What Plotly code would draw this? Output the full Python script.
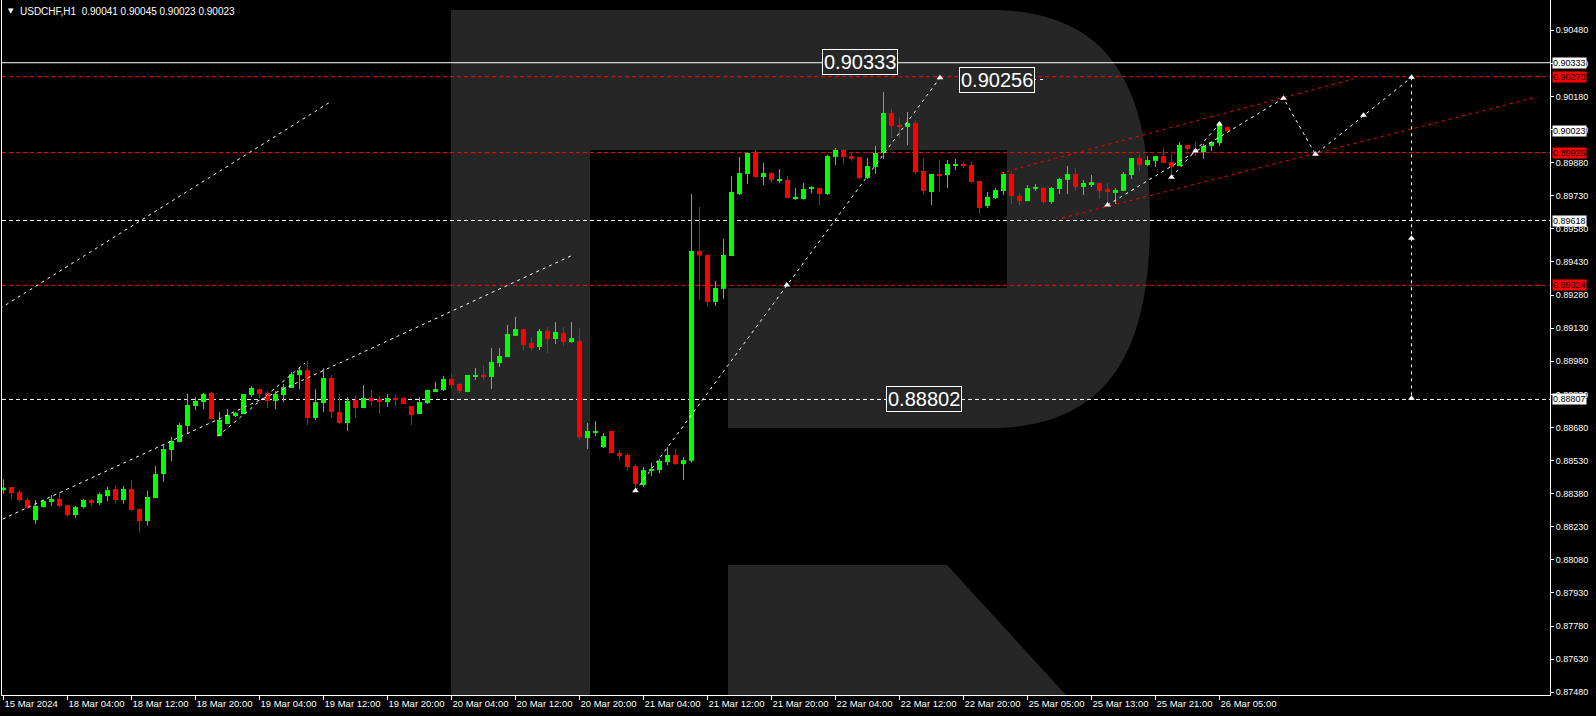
import plotly.graph_objects as go

# ---------------- data (USDCHF H1) ----------------
opens = [0.88396,0.88410,0.88387,0.88351,0.88260,0.88319,0.88342,0.88356,0.88328,0.88283,
0.88319,0.88351,0.88338,0.88369,0.88401,0.88351,0.88401,0.88310,0.88256,0.88360,
0.88469,0.88578,0.88614,0.88687,0.88777,0.88795,0.88836,0.88641,0.88696,0.88732,
0.88741,0.88827,0.88854,0.88836,0.88800,0.88827,0.88859,0.88918,0.88940,0.88723,
0.88791,0.88904,0.88750,0.88700,0.88804,0.88768,0.88814,0.88809,0.88795,0.88814,
0.88814,0.88777,0.88741,0.88791,0.88845,0.88850,0.88900,0.88877,0.88841,0.88913,
0.88918,0.88909,0.88972,0.88999,0.89095,0.89126,0.89063,0.89045,0.89117,0.89081,
0.89108,0.89067,0.89072,0.88632,0.88659,0.88591,0.88664,0.88564,0.88555,0.88505,
0.88419,0.88483,0.88487,0.88523,0.88555,0.88514,0.88529,0.89480,0.89462,0.89249,
0.89308,0.89457,0.89738,0.89829,0.89928,0.89815,0.89833,0.89797,0.89802,0.89715,
0.89715,0.89761,0.89765,0.89738,0.89906,0.89938,0.89910,0.89906,0.89811,0.89861,
0.89924,0.90105,0.90046,0.90042,0.90060,0.89842,0.89747,0.89829,0.89824,0.89865,
0.89874,0.89870,0.89797,0.89684,0.89720,0.89752,0.89829,0.89729,0.89706,0.89765,
0.89765,0.89702,0.89761,0.89802,0.89829,0.89770,0.89783,0.89788,0.89761,0.89743,
0.89752,0.89824,0.89901,0.89870,0.89888,0.89910,0.89883,0.89865,0.89960,0.89942,
0.89928,0.89956,0.89969,0.90041]
highs = [0.88445,0.88410,0.88396,0.88363,0.88351,0.88351,0.88374,0.88386,0.88328,0.88324,
0.88356,0.88356,0.88386,0.88410,0.88419,0.88415,0.88442,0.88315,0.88392,0.88505,
0.88600,0.88637,0.88700,0.88832,0.88818,0.88836,0.88841,0.88750,0.88764,0.88750,
0.88832,0.88868,0.88854,0.88845,0.88845,0.88877,0.88931,0.88954,0.88981,0.88854,
0.88949,0.88918,0.88832,0.88818,0.88823,0.88872,0.88850,0.88823,0.88832,0.88827,
0.88818,0.88777,0.88818,0.88850,0.88886,0.88913,0.88922,0.88881,0.88918,0.88949,
0.88959,0.89040,0.89040,0.89144,0.89181,0.89126,0.89090,0.89126,0.89135,0.89158,
0.89135,0.89158,0.89131,0.88700,0.88709,0.88655,0.88664,0.88578,0.88564,0.88514,
0.88501,0.88519,0.88537,0.88591,0.88582,0.88546,0.89738,0.89679,0.89462,0.89344,
0.89534,0.89820,0.89906,0.89924,0.89938,0.89879,0.89838,0.89851,0.89820,0.89765,
0.89788,0.89774,0.89765,0.89915,0.89947,0.89942,0.89928,0.89906,0.89901,0.89956,
0.90200,0.90123,0.90083,0.90110,0.90073,0.89901,0.89829,0.89892,0.89892,0.89897,
0.89883,0.89883,0.89797,0.89747,0.89765,0.89838,0.89842,0.89743,0.89779,0.89783,
0.89770,0.89770,0.89811,0.89865,0.89856,0.89802,0.89824,0.89788,0.89788,0.89765,
0.89838,0.89901,0.89919,0.89910,0.89910,0.89947,0.89919,0.89974,0.89960,0.89978,
0.89965,0.89974,0.90064,0.90045]
lows = [0.88381,0.88353,0.88344,0.88313,0.88242,0.88319,0.88324,0.88319,0.88276,0.88271,
0.88313,0.88325,0.88328,0.88347,0.88335,0.88335,0.88301,0.88206,0.88235,0.88360,
0.88434,0.88528,0.88614,0.88655,0.88759,0.88764,0.88718,0.88641,0.88696,0.88727,
0.88741,0.88818,0.88814,0.88768,0.88764,0.88795,0.88859,0.88854,0.88691,0.88714,
0.88750,0.88723,0.88696,0.88664,0.88723,0.88768,0.88777,0.88741,0.88773,0.88777,
0.88786,0.88691,0.88741,0.88786,0.88841,0.88845,0.88859,0.88836,0.88841,0.88895,
0.88895,0.88854,0.88954,0.88999,0.89095,0.89027,0.89027,0.89031,0.89017,0.89058,
0.89049,0.89063,0.88623,0.88582,0.88641,0.88587,0.88564,0.88532,0.88483,0.88396,
0.88410,0.88460,0.88473,0.88510,0.88510,0.88442,0.88520,0.89258,0.89226,0.89231,
0.89262,0.89457,0.89734,0.89783,0.89811,0.89779,0.89788,0.89788,0.89720,0.89711,
0.89715,0.89743,0.89688,0.89734,0.89870,0.89874,0.89888,0.89806,0.89806,0.89829,
0.89897,0.89992,0.89992,0.89960,0.89829,0.89734,0.89688,0.89747,0.89765,0.89847,
0.89856,0.89788,0.89648,0.89675,0.89715,0.89734,0.89693,0.89688,0.89706,0.89752,
0.89693,0.89693,0.89738,0.89738,0.89752,0.89734,0.89770,0.89715,0.89684,0.89693,
0.89752,0.89806,0.89842,0.89865,0.89861,0.89879,0.89815,0.89865,0.89933,0.89910,
0.89897,0.89933,0.89956,0.90023]
closes = [0.88407,0.88383,0.88351,0.88316,0.88325,0.88347,0.88356,0.88324,0.88283,0.88319,
0.88351,0.88338,0.88378,0.88396,0.88351,0.88401,0.88306,0.88256,0.88365,0.88469,
0.88582,0.88619,0.88691,0.88782,0.88800,0.88832,0.88718,0.88714,0.88736,0.88746,
0.88832,0.88859,0.88832,0.88800,0.88832,0.88863,0.88922,0.88940,0.88723,0.88795,
0.88904,0.88750,0.88700,0.88800,0.88768,0.88814,0.88800,0.88795,0.88814,0.88809,
0.88786,0.88736,0.88795,0.88850,0.88854,0.88900,0.88872,0.88845,0.88918,0.88918,
0.88909,0.88977,0.89004,0.89104,0.89126,0.89054,0.89040,0.89117,0.89081,0.89113,
0.89067,0.89085,0.88637,0.88664,0.88664,0.88641,0.88564,0.88551,0.88501,0.88424,
0.88487,0.88492,0.88528,0.88555,0.88514,0.88532,0.89480,0.89459,0.89249,0.89312,
0.89462,0.89747,0.89833,0.89924,0.89815,0.89833,0.89802,0.89802,0.89720,0.89725,
0.89761,0.89765,0.89738,0.89910,0.89938,0.89906,0.89901,0.89811,0.89865,0.89924,
0.90105,0.90046,0.90042,0.90060,0.89838,0.89752,0.89829,0.89824,0.89874,0.89874,
0.89865,0.89792,0.89675,0.89725,0.89756,0.89829,0.89729,0.89706,0.89765,0.89770,
0.89702,0.89765,0.89806,0.89829,0.89770,0.89788,0.89792,0.89752,0.89747,0.89756,
0.89829,0.89901,0.89870,0.89892,0.89910,0.89879,0.89861,0.89960,0.89942,0.89924,
0.89956,0.89974,0.90051,0.90023]

time_tick_idx = [0, 8, 16, 24, 32, 40, 48, 56, 64, 72, 80, 88, 96, 104, 112, 120, 128, 136, 144, 152]
time_tick_labels = ["15 Mar 2024", "18 Mar 04:00", "18 Mar 12:00", "18 Mar 20:00", "19 Mar 04:00",
                    "19 Mar 12:00", "19 Mar 20:00", "20 Mar 04:00", "20 Mar 12:00", "20 Mar 20:00",
                    "21 Mar 04:00", "21 Mar 12:00", "21 Mar 20:00", "22 Mar 04:00", "22 Mar 12:00",
                    "22 Mar 20:00", "25 Mar 05:00", "25 Mar 13:00", "25 Mar 21:00", "26 Mar 05:00"]

price_ticks = [0.87480, 0.87630, 0.87780, 0.87930, 0.88080, 0.88230, 0.88380, 0.88530, 0.88680,
               0.88830, 0.88980, 0.89130, 0.89280, 0.89430, 0.89580, 0.89730, 0.89880, 0.90030,
               0.90180, 0.90330, 0.90480]

solid_white_levels = [0.90333]
red_levels = [0.90270, 0.89926, 0.89324]
white_dash_levels = [0.89618, 0.88807]
white_price_tags = [0.90333, 0.90023, 0.89618, 0.88807]
red_price_tags = [0.90270, 0.89926, 0.89324]

# drawn analysis lines: (bar index list, price list)
white_lines = [
    ([-0.44, 40.66], [0.89219, 0.90151]),
    ([-0.10, 70.9], [0.88265, 0.89457]),
    ([26.8, 37.7], [0.88641, 0.88972]),
    ([79.0, 117.06], [0.88393, 0.90265]),
    ([138, 160, 164, 176], [0.89688, 0.90172, 0.89918, 0.90267]),
    ([146, 152], [0.89814, 0.90055]),
    ([176, 176], [0.90267, 0.88812]),
    ([128.7, 130.0], [0.90257, 0.90257]),
]
red_lines = [
    ([124.6, 168.7], [0.89833, 0.90259]),
    ([132.3, 191.7], [0.89629, 0.90178]),
]
arrow_x = [79.0, 97.9, 117.06, 138, 146, 149, 152, 160, 164, 170, 176, 176, 176]
arrow_y = [0.88393, 0.89326, 0.90265, 0.89688, 0.89814, 0.89933, 0.90055, 0.90172, 0.89918,
           0.90095, 0.90267, 0.89537, 0.88812]

text_boxes = [(102.3, 0.90336, "0.90333"), (119.4, 0.90257, "0.90256"), (110.3, 0.88807, "0.88802")]

# ---------------- figure ----------------
W, H = 1596, 716
PL, PR, PT, PB = 2, 1550, 0, 695
FONT = "Liberation Sans, Arial, sans-serif"
BULL, BEAR = "#00FF00", "#FF0000"
LOGO = "#262626"

fig = go.Figure()

n = len(opens)
idx = list(range(n))
min_body = 0.00005
for col, cond in ((BULL, lambda o, c: c >= o), (BEAR, lambda o, c: c < o)):
    xs, base, hgt, wx, wy = [], [], [], [], []
    for i in idx:
        o, c = opens[i], closes[i]
        if not cond(o, c):
            continue
        xs.append(i)
        base.append(min(o, c))
        hgt.append(max(abs(c - o), min_body))
        wx += [i, i, None]
        wy += [lows[i], highs[i], None]
    fig.add_trace(go.Scatter(x=wx, y=wy, mode="lines", line=dict(color=col, width=1),
                             hoverinfo="skip", showlegend=False))
    fig.add_trace(go.Bar(x=xs, y=hgt, base=base, width=0.625, marker=dict(color=col, line=dict(width=0)),
                         hoverinfo="skip", showlegend=False))

for xs, ys in red_lines:
    fig.add_trace(go.Scatter(x=xs, y=ys, mode="lines", line=dict(color="#FF0000", width=1, dash="3px,4px"),
                             hoverinfo="skip", showlegend=False))
for xs, ys in white_lines:
    fig.add_trace(go.Scatter(x=xs, y=ys, mode="lines", line=dict(color="#FFFFFF", width=1, dash="3px,4px"),
                             hoverinfo="skip", showlegend=False))
fig.add_trace(go.Scatter(x=arrow_x, y=arrow_y, mode="markers",
                         marker=dict(symbol="triangle-up", size=6, color="#FFFFFF", line=dict(width=0)),
                         hoverinfo="skip", showlegend=False))

# ---------------- shapes (watermark + level lines) ----------------
def px(xp):
    return (xp - PL) / (PR - PL)

def py(yp):
    return 1 - (yp - PT) / (PB - PT)

logo_main = (f"M{px(451)},{py(10)} L{px(990)},{py(10)} "
             f"C{px(1120)},{py(10)} {px(1150)},{py(100)} {px(1150)},{py(219)} "
             f"C{px(1150)},{py(335)} {px(1120)},{py(428)} {px(990)},{py(428)} "
             f"L{px(728)},{py(428)} L{px(728)},{py(288)} L{px(1007)},{py(288)} "
             f"L{px(1007)},{py(150)} L{px(590)},{py(150)} L{px(590)},{py(695)} L{px(451)},{py(695)} Z")
logo_leg = (f"M{px(728)},{py(565)} L{px(947)},{py(565)} L{px(1066)},{py(695)} L{px(728)},{py(695)} Z")

shapes = [
    dict(type="path", path=logo_main, xref="paper", yref="paper", fillcolor=LOGO, line=dict(width=0), layer="below"),
    dict(type="path", path=logo_leg, xref="paper", yref="paper", fillcolor=LOGO, line=dict(width=0), layer="below"),
]
for lv in solid_white_levels:
    shapes.append(dict(type="line", xref="paper", x0=0, x1=1, yref="y", y0=lv, y1=lv,
                       line=dict(color="#FFFFFF", width=1), layer="below"))
for lv in red_levels:
    shapes.append(dict(type="line", xref="paper", x0=0, x1=1, yref="y", y0=lv, y1=lv,
                       line=dict(color="#FF0000", width=1, dash="4px,3px"), layer="below"))
for lv in white_dash_levels:
    shapes.append(dict(type="line", xref="paper", x0=0, x1=1, yref="y", y0=lv, y1=lv,
                       line=dict(color="#FFFFFF", width=1, dash="4px,3px"), layer="below"))

# ---------------- annotations ----------------
ann = []
for lv in white_price_tags:
    ann.append(dict(x=1, xref="paper", xanchor="left", xshift=2, y=lv, yref="y", yanchor="middle",
                    text=f"{lv:.5f}", showarrow=False, bgcolor="#FFFFFF", borderpad=0,
                    font=dict(family=FONT, size=9, color="#000000")))
for lv in red_price_tags:
    ann.append(dict(x=1, xref="paper", xanchor="left", xshift=2, y=lv, yref="y", yanchor="middle",
                    text=f"{lv:.5f}", showarrow=False, bgcolor="#FF0000", borderpad=0,
                    font=dict(family=FONT, size=9, color="#000000")))
for bx, by, txt in text_boxes:
    ann.append(dict(x=bx, xref="x", xanchor="left", y=by, yref="y", yanchor="middle", text=txt,
                    showarrow=False, bgcolor=LOGO, bordercolor="#FFFFFF", borderwidth=1, borderpad=1,
                    font=dict(family=FONT, size=20, color="#FFFFFF")))
ann.append(dict(x=px(6), xref="paper", xanchor="left", y=py(11), yref="paper", yanchor="middle",
                text="▼", showarrow=False, font=dict(family="DejaVu Sans", size=7, color="#FFFFFF")))
ann.append(dict(x=px(18), xref="paper", xanchor="left", y=py(11), yref="paper", yanchor="middle",
                text="USDCHF,H1\u00a0\u00a00.90041 0.90045 0.90023 0.90023", showarrow=False,
                font=dict(family=FONT, size=10, color="#FFFFFF")))

x0 = (PL - 3.5) / 8
x1 = (PR - 3.5) / 8
y_top = 0.906173
y_bot = 0.874676

fig.update_layout(
    width=W, height=H,
    margin=dict(l=PL, r=W - PR, t=PT, b=H - PB, pad=0),
    paper_bgcolor="#000000", plot_bgcolor="#000000",
    showlegend=False, hovermode=False, barmode="overlay",
    shapes=shapes, annotations=ann,
    font=dict(family=FONT, size=9, color="#FFFFFF"),
    xaxis=dict(range=[x0, x1], showgrid=False, zeroline=False, showline=True, linecolor="#FFFFFF",
               linewidth=1, ticks="outside", ticklen=4, tickcolor="#FFFFFF", tickwidth=1,
               tickvals=time_tick_idx, ticktext=time_tick_labels, ticklabelposition="outside right",
               tickangle=0, automargin=False, tickfont=dict(family=FONT, size=9.5, color="#FFFFFF")),
    yaxis=dict(range=[y_bot, y_top], side="right", showgrid=False, zeroline=False, showline=True,
               mirror=True, linecolor="#FFFFFF", linewidth=1, ticks="outside", ticklen=3,
               automargin=False,
               tickcolor="#FFFFFF", tickvals=price_ticks, ticktext=[f"{v:.5f}" for v in price_ticks],
               tickfont=dict(family=FONT, size=9, color="#FFFFFF")),
)

fig.write_html("out.html",
               config={"displayModeBar": False},
               post_script="document.body.style.margin='0';document.body.style.background='#000';"
                           "document.documentElement.style.background='#000';"
                           "document.body.style.overflow='hidden';")
